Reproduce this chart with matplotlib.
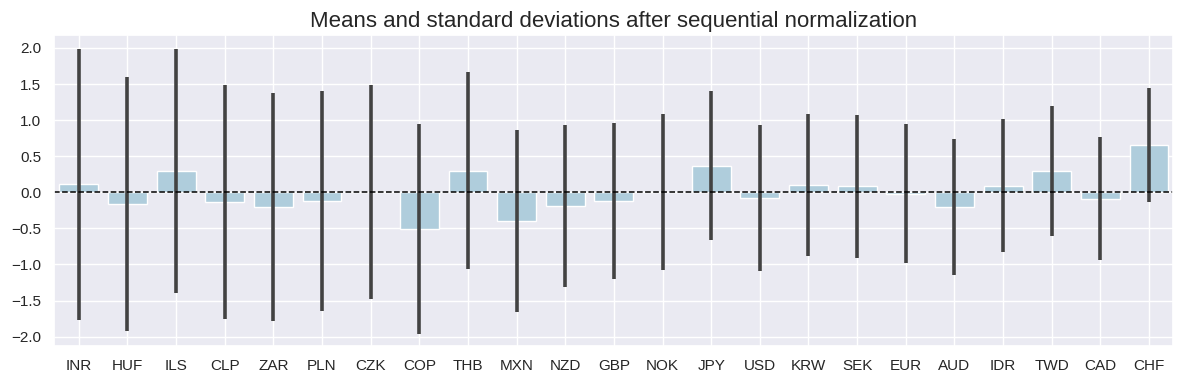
import matplotlib
matplotlib.use("Agg")
import matplotlib.pyplot as plt
import seaborn as sns
import numpy as np

sns.set_theme(style="darkgrid")
plt.rcParams['font.family'] = ['Liberation Sans', 'DejaVu Sans']

# currencies in plotted order
cids = ["INR", "HUF", "ILS", "CLP", "ZAR", "PLN", "CZK", "COP", "THB", "MXN", "NZD", "GBP",
        "NOK", "JPY", "USD", "KRW", "SEK", "EUR", "AUD", "IDR", "TWD", "CAD", "CHF"]
# means
means = [0.11, -0.16, 0.29, -0.13, -0.20, -0.12, 0.0, -0.51, 0.30, -0.40, -0.19, -0.12,
         0.0, 0.37, -0.08, 0.10, 0.08, -0.02, -0.20, 0.09, 0.30, -0.09, 0.65]
# standard deviations (half length of the black bars)
sds = [1.88, 1.76, 1.69, 1.62, 1.58, 1.52, 1.48, 1.45, 1.36, 1.26, 1.12, 1.08,
       1.08, 1.03, 1.01, 0.99, 0.99, 0.96, 0.94, 0.92, 0.90, 0.85, 0.79]

fig, ax = plt.subplots(figsize=(11.84, 3.84), dpi=100)
fig.subplots_adjust(left=0.046, right=0.991, top=0.909, bottom=0.099)

x = np.arange(len(cids))
ax.bar(x, means, width=0.8, color="#afcddc", edgecolor="white", linewidth=1,
       yerr=sds, error_kw=dict(ecolor="#424242", elinewidth=2.6, capsize=0))
ax.axhline(0, color="black", linestyle="--", linewidth=1.1)
ax.set_xticks(x)
ax.set_xticklabels(cids)
ax.set_xlim(-0.5, len(cids) - 0.5)
ax.set_ylim(-2.13, 2.18)
ax.tick_params(labelsize=11)
ax.set_title("Means and standard deviations after sequential normalization", fontsize=16)

plt.savefig("out.png")
